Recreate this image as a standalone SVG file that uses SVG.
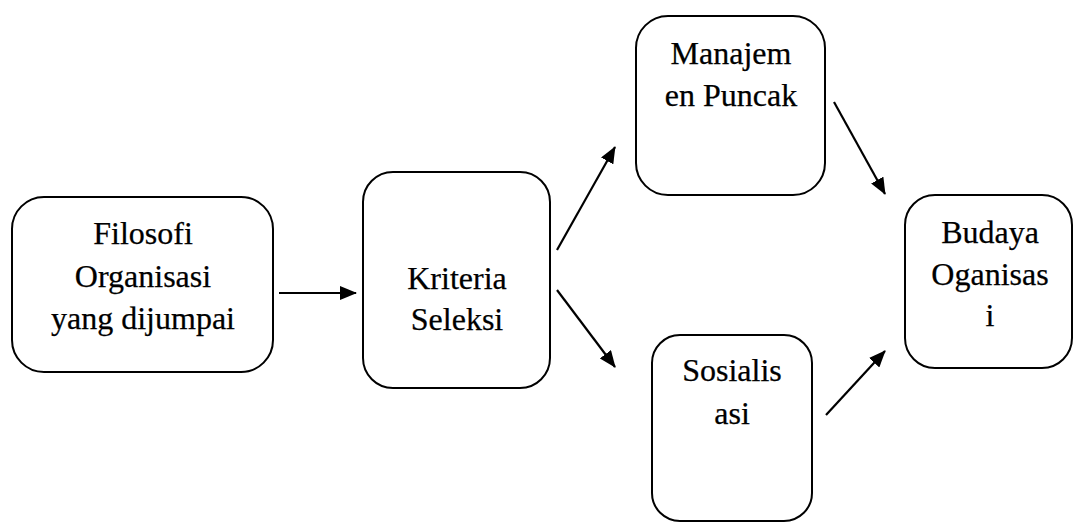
<svg xmlns="http://www.w3.org/2000/svg" width="1073" height="529" viewBox="0 0 1073 529">
<style>
.box{fill:#fff;stroke:#000;stroke-width:2}
.t{font-family:'Liberation Serif','Times New Roman',serif;font-size:32px;fill:#000;stroke:#000;stroke-width:0.25;text-anchor:middle}
.c{stroke:#000;stroke-width:2.2;fill:none;marker-end:url(#ah)}
</style>
<defs>
<marker id="ah" markerWidth="17" markerHeight="14" refX="16" refY="7" orient="auto" markerUnits="userSpaceOnUse">
<path d="M0,0 L17,7 L0,14 Z" fill="#000"/>
</marker>
</defs>
<rect width="1073" height="529" fill="#fff"/>
<g id="filosofi">
<rect class="box" x="12" y="197" width="261" height="175" rx="32"/>
<text class="t" x="143" y="244">Filosofi</text>
<text class="t" x="143" y="287">Organisasi</text>
<text class="t" x="143" y="329">yang dijumpai</text>
</g>
<g id="kriteria">
<rect class="box" x="363" y="172" width="187" height="216" rx="30"/>
<text class="t" x="457" y="289">Kriteria</text>
<text class="t" x="457" y="330">Seleksi</text>
</g>
<g id="manajemen">
<rect class="box" x="636" y="16" width="189" height="179" rx="32"/>
<text class="t" x="731" y="64">Manajem</text>
<text class="t" x="731" y="106">en Puncak</text>
</g>
<g id="sosialisasi">
<rect class="box" x="652" y="335" width="160" height="186" rx="28"/>
<text class="t" x="732" y="381">Sosialis</text>
<text class="t" x="732" y="424">asi</text>
</g>
<g id="budaya">
<rect class="box" x="905" y="195" width="167" height="173" rx="30"/>
<text class="t" x="990" y="243">Budaya</text>
<text class="t" x="990" y="285">Oganisas</text>
<text class="t" x="990" y="326">i</text>
</g>
<g id="connectors">
<line class="c" x1="279" y1="293" x2="356" y2="293"/>
<line class="c" x1="557" y1="250" x2="615" y2="147"/>
<line class="c" x1="557" y1="290" x2="615" y2="367"/>
<line class="c" x1="834" y1="102" x2="885" y2="194"/>
<line class="c" x1="826" y1="415" x2="885" y2="351"/>
</g>
</svg>
